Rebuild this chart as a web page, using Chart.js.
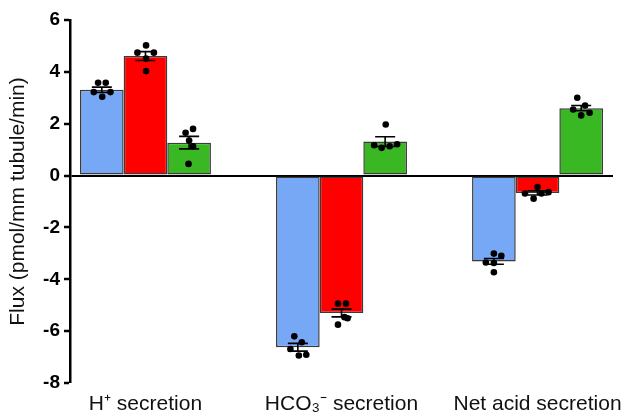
<!DOCTYPE html>
<html>
<head>
<meta charset="utf-8">
<script src="https://cdn.jsdelivr.net/npm/chart.js@4"></script>
<style>
  body { margin: 0; background: #fff; }
</style>
</head>
<body>
<canvas id="chart" width="626" height="416"></canvas>
<script>
// categories on the x axis
const categories = ["H\u207A secretion", "HCO\u2083\u207B secretion", "Net acid secretion"];

// bar heights (means) per series
const blueMeans = [3.31, -6.62, -3.31];
const redMeans = [4.61, -5.3, -0.67];
const greenMeans = [1.27, 1.31, 2.6];

// SEM per series
const blueSem = [0.1, 0.15, 0.11];
const redSem = [0.17, 0.15, 0.08];
const greenSem = [0.24, 0.19, 0.1];

// individual tubules, one list per category
const bluePoints = [
  [3.58, 3.58, 3.22, 3.22, 3.04],
  [-6.2, -6.43, -6.69, -6.94, -6.91],
  [-3.01, -3.09, -3.35, -3.37, -3.73]
];
const redPoints = [
  [5.02, 4.74, 4.74, 4.51, 4.03],
  [-4.94, -4.94, -5.46, -5.5, -5.75],
  [-0.44, -0.69, -0.69, -0.64, -0.89]
];
const greenPoints = [
  [1.65, 1.8, 1.35, 1.13, 0.45],
  [1.97, 1.17, 1.07, 1.13, 1.21],
  [3.0, 2.55, 2.7, 2.42, 2.32]
];

// horizontal scatter of the dots, in category units
const blueJitter = [
  [-0.019, 0.02, -0.041, 0.044, 0.002],
  [-0.018, 0.02, -0.038, 0.005, 0.043],
  [0, 0.038, -0.041, 0, 0]
];
const redJitter = [
  [0.003, -0.041, 0.043, 0.003, 0.003],
  [-0.018, 0.023, 0.015, 0.031, -0.018],
  [0, -0.064, 0.02, 0.056, -0.02]
];
const greenJitter = [
  [-0.018, 0.02, 0, 0.02, -0.003],
  [0.003, -0.056, -0.018, 0.023, 0.061],
  [-0.02, -0.041, 0.02, 0.043, 0]
];

const yTicks = [-8, -6, -4, -2, 0, 2, 4, 6];

const FONT = "'Liberation Sans', Arial, Helvetica, sans-serif";
const groupPct = 0.668;
const barStep = groupPct / 3;

function barData(means) {
  return means.map((v, i) => ({ x: i, y: v }));
}

function dotData(points, jitter, slot) {
  const out = [];
  points.forEach((list, i) => {
    list.forEach((v, j) => {
      out.push({ x: i + (slot - 1) * barStep + jitter[i][j], y: v });
    });
  });
  return out;
}

const sems = [blueSem, redSem, greenSem];

const errorBars = {
  id: "errorBars",
  afterDatasetsDraw(chart) {
    const ctx = chart.ctx;
    const y = chart.scales.y;
    ctx.save();
    ctx.strokeStyle = "#000";
    ctx.lineWidth = 1.6;
    for (let d = 0; d < 3; d++) {
      const meta = chart.getDatasetMeta(d);
      meta.data.forEach((bar, i) => {
        const mean = chart.data.datasets[d].data[i].y;
        const top = y.getPixelForValue(mean + sems[d][i]);
        const bot = y.getPixelForValue(mean - sems[d][i]);
        ctx.beginPath();
        ctx.moveTo(bar.x, top);
        ctx.lineTo(bar.x, bot);
        ctx.moveTo(bar.x - 10, top);
        ctx.lineTo(bar.x + 10, top);
        ctx.moveTo(bar.x - 10, bot);
        ctx.lineTo(bar.x + 10, bot);
        ctx.stroke();
      });
    }
    ctx.restore();
  }
};

const barStyle = {
  type: "bar",
  order: 2,
  borderColor: "#3a3a3a",
  borderWidth: 1.5,
  borderSkipped: false,
  barPercentage: 1,
  categoryPercentage: groupPct
};

const dotStyle = {
  type: "scatter",
  order: 1,
  backgroundColor: "#000",
  borderWidth: 0,
  pointRadius: 3.3
};

new Chart(document.getElementById("chart"), {
  data: {
    datasets: [
      { ...barStyle, label: "blue", data: barData(blueMeans), backgroundColor: "#76a8f6" },
      { ...barStyle, label: "red", data: barData(redMeans), backgroundColor: "#ff0000" },
      { ...barStyle, label: "green", data: barData(greenMeans), backgroundColor: "#39b824" },
      { ...dotStyle, label: "blue pts", data: dotData(bluePoints, blueJitter, 0) },
      { ...dotStyle, label: "red pts", data: dotData(redPoints, redJitter, 1) },
      { ...dotStyle, label: "green pts", data: dotData(greenPoints, greenJitter, 2) }
    ]
  },
  options: {
    responsive: false,
    animation: false,
    devicePixelRatio: 1,
    layout: { padding: { top: 20, right: 13, bottom: 0, left: 0 } },
    plugins: {
      legend: { display: false },
      tooltip: { enabled: false }
    },
    scales: {
      x: {
        type: "linear",
        position: "bottom",
        offset: false,
        min: -0.385,
        max: 2.385,
        grid: { display: false, drawTicks: false, offset: false },
        border: { display: false },
        afterBuildTicks: (scale) => {
          scale.ticks = categories.map((c, i) => ({ value: i }));
        },
        afterFit: (scale) => {
          scale.height = 33;
          scale.paddingLeft = 0;
          scale.paddingRight = 0;
        },
        ticks: {
          autoSkip: false,
          maxRotation: 0,
          padding: 9,
          color: "#111",
          font: { family: FONT, size: 21 },
          callback: (v) => categories[v]
        }
      },
      y: {
        min: -8,
        max: 6,
        afterBuildTicks: (scale) => {
          scale.ticks = yTicks.map(v => ({ value: v }));
        },
        afterFit: (scale) => { scale.width = 70; },
        border: { display: true, color: "#000", width: 2.5 },
        grid: {
          drawOnChartArea: true,
          color: (c) => (c.tick && c.tick.value === 0 ? "#000" : "rgba(0,0,0,0)"),
          lineWidth: (c) => (c.tick && c.tick.value === 0 ? 2 : 0),
          tickColor: "#000",
          tickLength: 6,
          tickWidth: 2.5
        },
        ticks: {
          padding: 4,
          color: "#000",
          font: { family: FONT, size: 19, weight: "bold" }
        },
        title: {
          display: true,
          text: "Flux (pmol/mm tubule/min)",
          color: "#111",
          padding: { top: 6, bottom: 0 },
          font: { family: FONT, size: 21 }
        }
      }
    }
  },
  plugins: [errorBars]
});
</script>
</body>
</html>
